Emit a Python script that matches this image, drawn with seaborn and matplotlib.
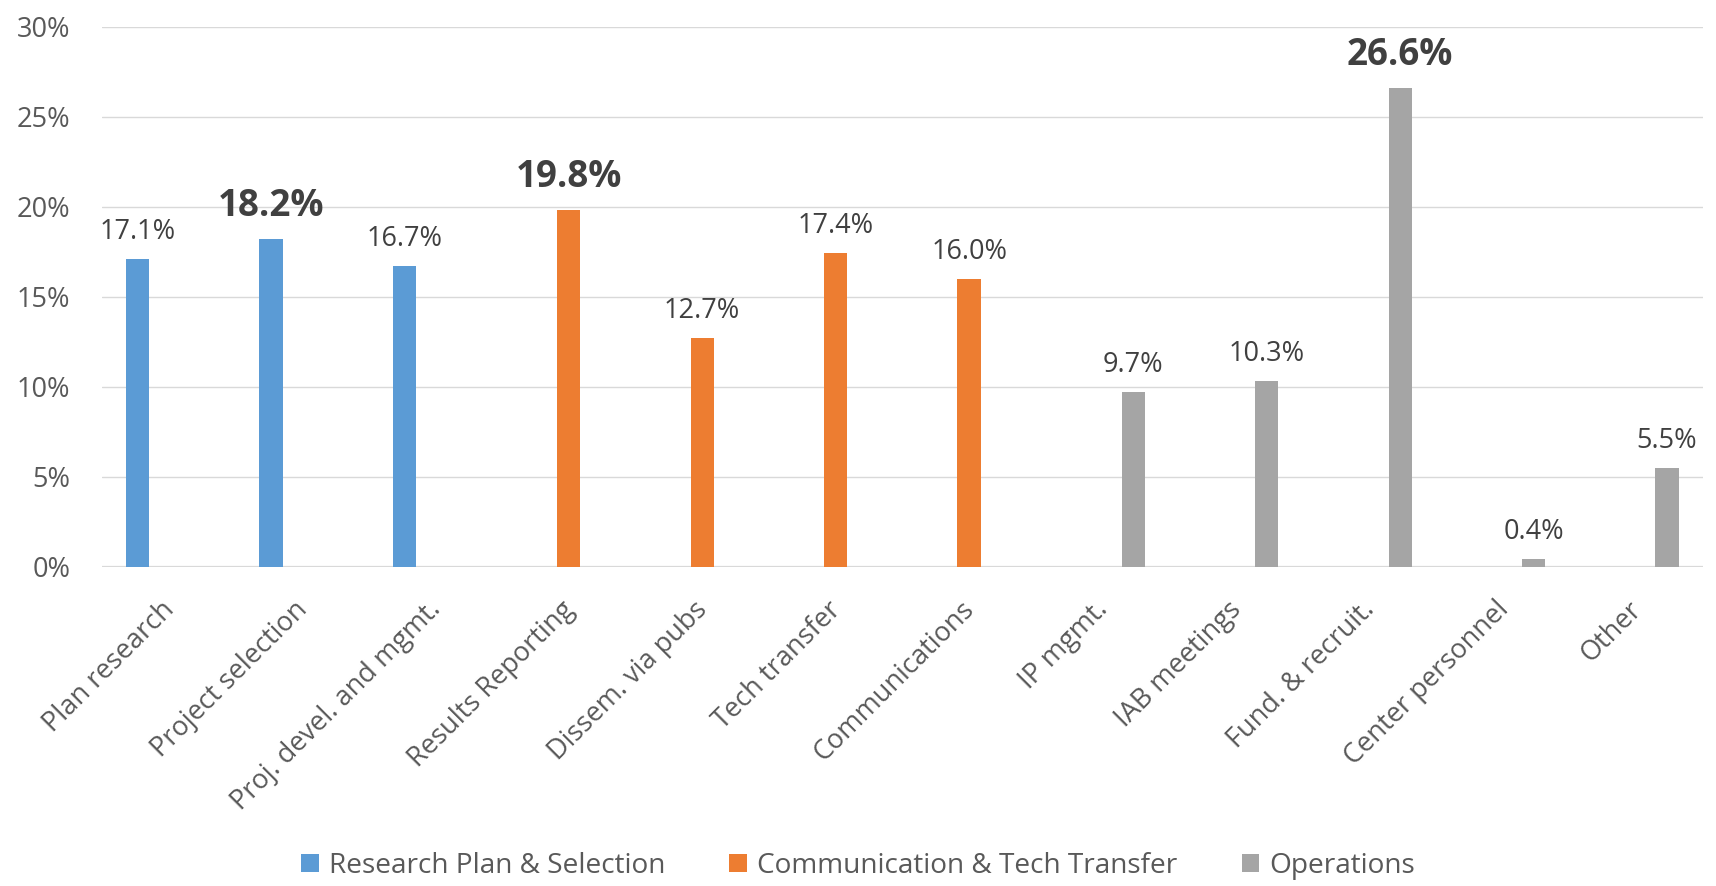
import matplotlib
matplotlib.use("Agg")
import matplotlib.pyplot as plt
from matplotlib.patches import Patch
from matplotlib.ticker import FuncFormatter
from matplotlib.transforms import ScaledTranslation
import pandas as pd
import seaborn as sns

# Share of effort by activity, grouped into three areas
categories = [
    "Plan research", "Project selection", "Proj. devel. and mgmt.",
    "Results Reporting", "Dissem. via pubs", "Tech transfer", "Communications",
    "IP mgmt.", "IAB meetings", "Fund. & recruit.", "Center personnel", "Other",
]
groups = [
    "Research Plan & Selection", "Research Plan & Selection", "Research Plan & Selection",
    "Communication & Tech Transfer", "Communication & Tech Transfer",
    "Communication & Tech Transfer", "Communication & Tech Transfer",
    "Operations", "Operations", "Operations", "Operations", "Operations",
]
values = [17.1, 18.2, 16.7, 19.8, 12.7, 17.4, 16.0, 9.7, 10.3, 26.6, 0.4, 5.5]

group_order = ["Research Plan & Selection", "Communication & Tech Transfer", "Operations"]
group_colors = ["#5B9BD5", "#ED7D31", "#A5A5A5"]
y_ticks = [0, 5, 10, 15, 20, 25, 30]

AXIS_TEXT = "#595959"
LABEL_TEXT = "#404040"
GRID = "#D9D9D9"

sns.set_style("white")
plt.rcParams["font.family"] = ["Open Sans", "DejaVu Sans"]

df = pd.DataFrame({"activity": categories, "area": groups, "share": values})

fig = plt.figure(figsize=(17.16, 8.86), dpi=100)
ax = fig.add_axes([0.0592, 0.3604, 0.9333, 0.6095])

sns.barplot(
    data=df, x="activity", y="share", hue="area",
    order=categories, hue_order=group_order,
    palette=dict(zip(group_order, group_colors)), saturation=1,
    width=0.69, gap=0.24, dodge=True, errorbar=None,
    linewidth=0, legend=False, ax=ax, zorder=3,
)

ax.set_xlim(-0.5, len(categories) - 0.5)
ax.set_ylim(0, 30)
ax.set_yticks(y_ticks)
ax.yaxis.set_major_formatter(FuncFormatter(lambda v, _: f"{v:.0f}%"))
ax.grid(axis="y", color=GRID, linewidth=1.0, zorder=0)
ax.grid(axis="x", visible=False)
ax.set_axisbelow(True)
for side in ["top", "right", "left", "bottom"]:
    ax.spines[side].set_visible(False)
ax.axhline(0, color=GRID, linewidth=1.6, zorder=2)

ax.tick_params(axis="y", length=0, pad=22.5, labelsize=19.5, labelcolor=AXIS_TEXT)
ax.tick_params(axis="x", length=0, pad=21, labelsize=19.5, labelcolor=AXIS_TEXT)
ax.set_xlabel("")
ax.set_ylabel("")
ax.set_xticks(range(len(categories)))
ax.set_xticklabels(categories, rotation=45, ha="right", va="top",
                   rotation_mode="anchor")
shift = ScaledTranslation(-6 / 72, 0, fig.dpi_scale_trans)
for lbl in ax.get_xticklabels():
    lbl.set_transform(lbl.get_transform() + shift)

# Value labels; the largest value in each area is emphasised
group_max = df.groupby("area")["share"].max().to_dict()
for bar in ax.patches:
    h = bar.get_height()
    if h <= 0 or bar.get_width() <= 0:
        continue
    cx = bar.get_x() + bar.get_width() / 2
    match = df[(df["share"] - h).abs() < 1e-9]
    is_top = any(group_max[a] == h for a in match["area"])
    if is_top:
        ax.annotate(f"{h:.1f}%", (cx, h), xytext=(0, 16.6), textcoords="offset points",
                    ha="center", va="baseline", fontsize=26.5, fontweight="bold",
                    color=LABEL_TEXT, annotation_clip=False)
    else:
        ax.annotate(f"{h:.1f}%", (cx, h), xytext=(0, 14.4), textcoords="offset points",
                    ha="center", va="baseline", fontsize=19.5,
                    color=LABEL_TEXT, annotation_clip=False)

handles = [Patch(facecolor=c, edgecolor="none", label=g)
           for g, c in zip(group_order, group_colors)]
leg = fig.legend(handles=handles, loc="center", bbox_to_anchor=(0.5, 0.0226),
                 ncol=3, frameon=False, fontsize=20.2, handlelength=0.63,
                 handleheight=0.63, handletextpad=0.35, columnspacing=2.3,
                 borderaxespad=0)
for t in leg.get_texts():
    t.set_color(AXIS_TEXT)

fig.savefig("out.png", dpi=100)
